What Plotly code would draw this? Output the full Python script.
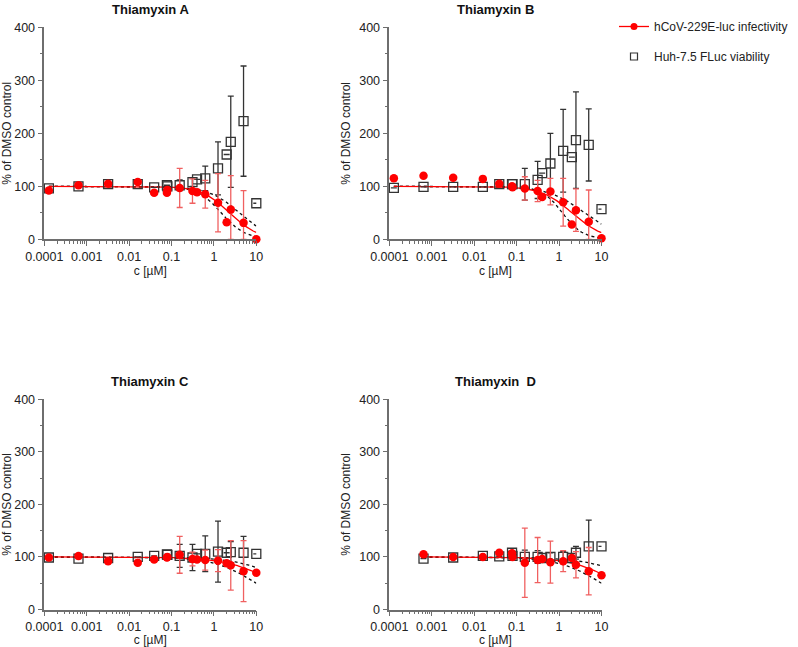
import numpy as np
import plotly.graph_objects as go

# ---------------- data ----------------
conc = [0.000128, 0.00064, 0.0032, 0.016, 0.039, 0.078, 0.08, 0.156,
        0.3125, 0.4, 0.625, 1.25, 2, 2.5, 5, 10]

titles = ["Thiamyxin A", "Thiamyxin B", "Thiamyxin C", "Thiamyxin  D"]

# infectivity (% of DMSO control) and SD
inf_A = [92, 102, 105, 108, 88, 88, 93, 97, 91, 89, 85, 69, 32, 56, 31, 0]
inf_A_err = [0, 0, 0, 0, 0, 0, 0, 37, 23, 0, 26, 55, 0, 64, 61, 0]
inf_B = [115, 120, 116, 114, 105, 100, 98, 96, 91, 80, 90, 70, 28, 55, 33, 2]
inf_B_err = [0, 0, 0, 0, 0, 0, 0, 22, 20, 0, 25, 45, 0, 40, 60, 0]
inf_C = [99, 102, 92, 89, 95, 99, 100, 104, 96, 95, 94, 93, 88, 84, 73, 70]
inf_C_err = [0, 0, 0, 0, 0, 0, 0, 35, 13, 0, 19, 21, 0, 47, 58, 0]
inf_D = [None, 105, 100, 100, 108, 107, 100, 89, 94, 96, 90, 92, 98, 85, 73, 65]
inf_D_err = [0, 0, 0, 0, 0, 0, 0, 66, 43, 0, 40, 20, 0, 25, 45, 0]

# viability (% of DMSO control) and SD
via_A = [96, 100, 104, 104, 98, 102, 100, 102, 108, 113, 115, 134, 160, 184, 223, 68]
via_A_err = [0, 0, 0, 0, 0, 0, 0, 10, 8, 0, 23, 50, 0, 86, 104, 0]
via_B = [97, 99, 99, 99, 104, 104, 104, 104, 112, 125, 143, 167, 155, 187, 178, 57]
via_B_err = [0, 0, 0, 0, 0, 0, 0, 30, 35, 0, 57, 78, 0, 91, 68, 0]
via_C = [99, 97, 98, 100, 102, 105, 104, 102, 99, 106, 106, 110, 108, 109, 108, 106]
via_C_err = [0, 0, 0, 0, 0, 0, 0, 22, 25, 0, 34, 58, 0, 20, 31, 0]
via_D = [None, 97, 99, 102, 101, 108, 102, 100, 100, 98, 100, 100, 98, 108, 120, 120]
via_D_err = [0, 0, 0, 0, 0, 0, 0, 13, 12, 0, 8, 10, 0, 12, 50, 0]

# dose-response fit (top 100, bottom 0): IC50 [uM] and Hill slope
fit_ic50 = [2.34, 2.0, 30, 25]
fit_hill = [1.31, 1.2, 0.76, 0.8]
band_hi_ic50 = [4.0, 4.0, 58, 100]
band_hi_hill = [1.2, 1.0, 0.78, 0.7]
band_lo_ic50 = [1.49, 1.2, 10, 10]
band_lo_hill = [1.55, 1.8, 0.87, 0.85]
fit_start = [0.000128, 0.000128, 0.000128, 0.00064]

inf_all = [inf_A, inf_B, inf_C, inf_D]
inf_err_all = [inf_A_err, inf_B_err, inf_C_err, inf_D_err]
via_all = [via_A, via_B, via_C, via_D]
via_err_all = [via_A_err, via_B_err, via_C_err, via_D_err]

# ---------------- layout ----------------
W, H = 798, 647
FONT = "Liberation Sans, Arial, sans-serif"
RED = "#ff0000"
ERR_RED = "#f06060"
DARK = "#333333"
AX = "#6e6e6e"

# panel boxes in pixels (left, right, top, bottom)
boxes = [(44.3, 256.3, 27.3, 239.3), (389.3, 601.5, 27.3, 239.3),
         (44.3, 256.3, 399.3, 609.5), (389.3, 601.5, 399.3, 609.5)]


def px(x):
    return x / W


def py(y):
    return 1 - y / H


fig = go.Figure()


def hill(x, ic50, h):
    return 100.0 / (1.0 + (x / ic50) ** h)


minor_vals = [k * 10.0 ** d for d in range(-4, 1) for k in range(2, 10)]

for i in range(4):
    xa = "x" if i == 0 else f"x{i + 1}"
    ya = "y" if i == 0 else f"y{i + 1}"
    xs = np.logspace(np.log10(fit_start[i]), 1, 200)
    # confidence bands (dotted)
    for ic, hh in ((band_hi_ic50[i], band_hi_hill[i]), (band_lo_ic50[i], band_lo_hill[i])):
        fig.add_trace(go.Scatter(x=xs, y=hill(xs, ic, hh), mode="lines",
                                 line=dict(color="#111111", width=1.3, dash="dot"),
                                 xaxis=xa, yaxis=ya, showlegend=False, hoverinfo="skip"))
    # fit line
    fig.add_trace(go.Scatter(x=xs, y=hill(xs, fit_ic50[i], fit_hill[i]), mode="lines",
                             line=dict(color=RED, width=1.3),
                             xaxis=xa, yaxis=ya, showlegend=False, hoverinfo="skip"))
    # viability squares
    v = via_all[i]
    ve = via_err_all[i]
    fig.add_trace(go.Scatter(
        x=conc, y=v, mode="markers",
        marker=dict(symbol="square-open", size=9, color=DARK, line=dict(width=1.3)),
        error_y=dict(type="data", array=ve, color=DARK, thickness=1.3, width=3),
        xaxis=xa, yaxis=ya, showlegend=False, cliponaxis=False))
    # infectivity dots
    f = inf_all[i]
    fe = inf_err_all[i]
    fe_minus = [min(e, y) if y is not None else 0 for e, y in zip(fe, f)]
    fig.add_trace(go.Scatter(
        x=conc, y=f, mode="markers",
        marker=dict(symbol="circle", size=8.5, color=RED),
        error_y=dict(type="data", array=fe, arrayminus=fe_minus, color=ERR_RED,
                     thickness=1.3, width=3),
        xaxis=xa, yaxis=ya, showlegend=False, cliponaxis=False))

# legend entries
fig.add_trace(go.Scatter(x=[None], y=[None], mode="lines+markers",
                         name="hCoV-229E-luc infectivity",
                         marker=dict(symbol="circle", size=7, color=RED),
                         line=dict(color=RED, width=1.3), legend="legend"))
fig.add_trace(go.Scatter(x=[None], y=[None], mode="markers",
                         name="Huh-7.5 FLuc viability",
                         marker=dict(symbol="square-open", size=7, color=DARK, line=dict(width=1.2)),
                         legend="legend2"))

layout = dict(
    width=W, height=H, margin=dict(l=0, r=0, t=0, b=0, autoexpand=False),
    paper_bgcolor="white", plot_bgcolor="white",
    font=dict(family=FONT, size=12, color="#222222"),
    showlegend=True,
    legend=dict(x=px(614), y=py(12), xanchor="left", yanchor="top",
                font=dict(size=12, color="#222222"), bgcolor="rgba(0,0,0,0)",
                itemwidth=30),
    legend2=dict(x=px(614), y=py(42), xanchor="left", yanchor="top",
                 font=dict(size=12, color="#222222"), bgcolor="rgba(0,0,0,0)",
                 itemwidth=30),
)

annotations = []
for i, (l, r, t, b) in enumerate(boxes):
    xk = "xaxis" if i == 0 else f"xaxis{i + 1}"
    yk = "yaxis" if i == 0 else f"yaxis{i + 1}"
    ya = "y" if i == 0 else f"y{i + 1}"
    xa = "x" if i == 0 else f"x{i + 1}"
    layout[xk] = dict(
        domain=[px(l), px(r)], anchor=ya, type="log", range=[-4, 1],
        automargin=False,
        showline=True, linecolor=AX, linewidth=1.5, showgrid=False, zeroline=False,
        ticks="outside", ticklen=5, tickwidth=1.3, tickcolor=AX,
        tickvals=[0.0001, 0.001, 0.01, 0.1, 1, 10],
        ticktext=["0.0001", "0.001", "0.01", "0.1", "1", "10"],
        tickfont=dict(size=12.5, color="#222222"),
        minor=dict(tickmode="array", tickvals=minor_vals, ticks="outside", ticklen=3,
                   tickwidth=1, tickcolor=AX, showgrid=False),
        title=dict(text="c [µM]", font=dict(size=12, color="#222222"), standoff=1),
    )
    layout[yk] = dict(
        domain=[py(b), py(t)], anchor=xa, range=[0, 400],
        automargin=False,
        showline=True, linecolor=AX, linewidth=1.5, showgrid=False, zeroline=False,
        ticks="outside", ticklen=5, tickwidth=1.3, tickcolor=AX,
        tickvals=[0, 100, 200, 300, 400],
        tickfont=dict(size=12.5, color="#222222"),
        minor=dict(dtick=50, ticks="outside", ticklen=3, tickwidth=1, tickcolor=AX,
                   showgrid=False),
        title=dict(text="% of DMSO control", font=dict(size=12, color="#222222"),
                   standoff=6),
    )
    annotations.append(dict(text=f"<b>{titles[i]}</b>", x=px((l + r) / 2),
                            y=py(t - 18), xref="paper", yref="paper",
                            xanchor="center", yanchor="middle", showarrow=False,
                            font=dict(size=13, color="#111111", family=FONT)))

layout["annotations"] = annotations
fig.update_layout(**layout)
fig.write_html("out.html", config={"displayModeBar": False},
               post_script="document.body.style.margin='0px';document.body.style.padding='0px';")
